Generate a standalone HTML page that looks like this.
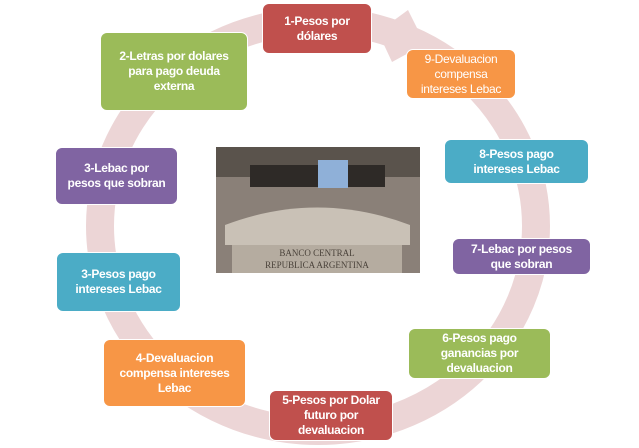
<!DOCTYPE html>
<html><head><style>
body{margin:0;width:639px;height:448px;background:#fff;position:relative;overflow:hidden;font-family:"Liberation Sans",sans-serif}
.b{position:absolute;color:#fff;font-weight:bold;font-size:12px;line-height:15px;text-align:center;display:flex;align-items:center;justify-content:center;border-radius:7px;border:1.5px solid #fff;box-sizing:border-box;letter-spacing:-0.3px}
.r{background:#c0504d}.g{background:#9bbb59}.o{background:#f79646;font-weight:normal}.p{background:#8064a2}.t{background:#4bacc6}
</style></head><body>
<svg width="639" height="448" style="position:absolute;left:0;top:0">
<ellipse cx="318" cy="226" rx="218" ry="205" fill="none" stroke="#ecd5d6" stroke-width="28"/>
<polygon points="378,32 408,10 425,44 392,62" fill="#ecd5d6"/>
<rect x="216" y="147" width="204" height="126" fill="#8a8078"/>
<rect x="216" y="147" width="204" height="30" fill="#5a534c"/>
<rect x="250" y="165" width="135" height="22" fill="#2e2a27"/>
<rect x="318" y="160" width="30" height="28" fill="#8fb0d8"/>
<path d="M225 225 Q317 190 410 225 L410 245 L225 245Z" fill="#c9c1b6"/>
<rect x="232" y="245" width="170" height="28" fill="#b5aca0"/>
<text x="317" y="256" font-size="9" text-anchor="middle" fill="#4a423a" font-family="Liberation Serif">BANCO CENTRAL</text>
<text x="317" y="268" font-size="9" text-anchor="middle" fill="#4a423a" font-family="Liberation Serif">REPUBLICA ARGENTINA</text>
</svg>
<div class="b r" style="left:262px;top:3px;width:110px;height:51px">1-Pesos por<br>dólares</div>
<div class="b g" style="left:100px;top:32px;width:148px;height:79px">2-Letras por dolares<br>para pago deuda<br>externa</div>
<div class="b o" style="left:406px;top:49px;width:110px;height:50px">9-Devaluacion<br>compensa<br>intereses Lebac</div>
<div class="b p" style="left:55px;top:147px;width:123px;height:58px">3-Lebac por<br>pesos que sobran</div>
<div class="b t" style="left:444px;top:139px;width:145px;height:45px">8-Pesos pago<br>intereses Lebac</div>
<div class="b t" style="left:56px;top:252px;width:125px;height:60px">3-Pesos pago<br>intereses Lebac</div>
<div class="b p" style="left:452px;top:238px;width:139px;height:37px">7-Lebac por pesos<br>que sobran</div>
<div class="b o" style="left:103px;top:339px;width:143px;height:68px;font-weight:bold">4-Devaluacion<br>compensa intereses<br>Lebac</div>
<div class="b g" style="left:408px;top:328px;width:143px;height:51px">6-Pesos pago<br>ganancias por<br>devaluacion</div>
<div class="b r" style="left:269px;top:390px;width:124px;height:51px">5-Pesos por Dolar<br>futuro por<br>devaluacion</div>
</body></html>
